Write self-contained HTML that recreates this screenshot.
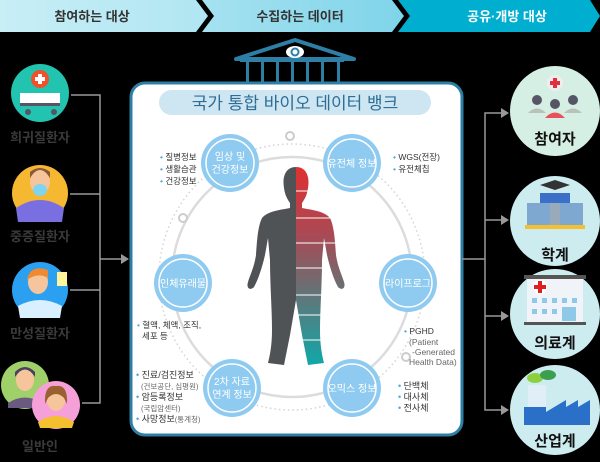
<!DOCTYPE html>
<html><head><meta charset="utf-8"><style>
html,body{margin:0;padding:0;background:#000;}
svg{display:block;font-family:"Liberation Sans","Noto Sans CJK KR",sans-serif;}
</style></head><body>
<svg width="600" height="462" viewBox="0 0 600 462" xmlns="http://www.w3.org/2000/svg">
<defs>
<linearGradient id="b1" x1="0" x2="1"><stop offset="0" stop-color="#c8eef6"/><stop offset="1" stop-color="#b0e6f2"/></linearGradient>
<linearGradient id="b2" x1="0" x2="1"><stop offset="0" stop-color="#a6e2f0"/><stop offset="1" stop-color="#7fd4ea"/></linearGradient>
<linearGradient id="body" x1="0" y1="0" x2="0" y2="1"><stop offset="0" stop-color="#e03030"/><stop offset="0.35" stop-color="#a84a55"/><stop offset="0.6" stop-color="#6c6e72"/><stop offset="1" stop-color="#10a8a8"/></linearGradient>
<clipPath id="rc"><rect x="296" y="160" width="60" height="210"/></clipPath>
<clipPath id="lc"><rect x="240" y="160" width="56" height="210"/></clipPath>
</defs>
<!-- banner -->
<polygon points="0,0 196,0 208,16 196,32 0,32" fill="url(#b1)"/>
<polygon points="202,0 392,0 404,16 392,32 202,32 214,16" fill="url(#b2)"/>
<polygon points="398,0 590,0 600,16 590,32 398,32 410,16" fill="#00aed0"/>
<text x="92" y="21" font-size="13" font-weight="bold" fill="#333" text-anchor="middle">참여하는 대상</text>
<text x="300" y="21" font-size="13" font-weight="bold" fill="#333" text-anchor="middle">수집하는 데이터</text>
<text x="507" y="21" font-size="13" font-weight="bold" fill="#fff" text-anchor="middle">공유·개방 대상</text>
<!-- building roof -->
<polygon points="236,59 295,40 354,59" fill="none" stroke="#2d7fa6" stroke-width="4" stroke-linejoin="round"/>
<ellipse cx="295" cy="52" rx="9" ry="6" fill="#fff"/><circle cx="295" cy="52" r="3.5" fill="none" stroke="#2d7fa6" stroke-width="2"/>
<g fill="#2d7fa6"><rect x="246" y="60" width="3" height="24"/><rect x="261" y="60" width="3" height="24"/><rect x="276" y="60" width="3" height="24"/><rect x="291" y="60" width="3" height="24"/><rect x="306" y="60" width="3" height="24"/><rect x="321" y="60" width="3" height="24"/><rect x="337" y="60" width="3" height="24"/><rect x="240" y="59" width="104" height="3"/></g>
<!-- main box -->
<rect x="131" y="83" width="331" height="352" rx="14" fill="#fff" stroke="#2d7fa6" stroke-width="3"/>
<rect x="159" y="90" width="272" height="25" rx="12.5" fill="#cde6f1"/>
<text x="295" y="109" font-size="17" fill="#2d6d96" text-anchor="middle">국가 통합 바이오 데이터 뱅크</text>
<!-- arcs -->
<circle cx="292" cy="277" r="120" fill="none" stroke="#dcdcdc" stroke-width="2.5"/>
<circle cx="292" cy="277" r="133" fill="none" stroke="#d4d4d4" stroke-width="1.5" stroke-dasharray="1.5 3"/>
<circle cx="290" cy="136" r="4" fill="#fff" stroke="#ccc" stroke-width="2"/>
<circle cx="183" cy="218" r="4" fill="#fff" stroke="#ccc" stroke-width="2"/>
<circle cx="406" cy="357" r="4" fill="#fff" stroke="#ccc" stroke-width="2"/>
<!-- body -->
<g>
<path d="M296,167 C286,167 282,176 284,188 C285,196 288,200 290,203 L290,208 C280,210 268,211 262,218 C258,226 257,240 256,255 C254,268 250,275 248,282 C246,288 250,291 254,287 C258,280 262,268 265,255 L268,238 L270,260 C270,285 272,310 272,330 C272,345 270,355 268,363 L284,365 L290,335 L296,300 L302,335 L308,365 L324,363 C322,355 320,345 320,330 C320,310 322,285 322,260 L324,238 L327,255 C330,268 334,280 338,287 C342,291 346,288 344,282 C342,275 338,268 336,255 C335,240 334,226 330,218 C324,211 312,210 302,208 L302,203 C304,200 307,196 308,188 C310,176 306,167 296,167 Z" fill="#505356" clip-path="url(#lc)"/>
<path d="M296,167 C286,167 282,176 284,188 C285,196 288,200 290,203 L290,208 C280,210 268,211 262,218 C258,226 257,240 256,255 C254,268 250,275 248,282 C246,288 250,291 254,287 C258,280 262,268 265,255 L268,238 L270,260 C270,285 272,310 272,330 C272,345 270,355 268,363 L284,365 L290,335 L296,300 L302,335 L308,365 L324,363 C322,355 320,345 320,330 C320,310 322,285 322,260 L324,238 L327,255 C330,268 334,280 338,287 C342,291 346,288 344,282 C342,275 338,268 336,255 C335,240 334,226 330,218 C324,211 312,210 302,208 L302,203 C304,200 307,196 308,188 C310,176 306,167 296,167 Z" fill="url(#body)" clip-path="url(#rc)"/>
<g stroke="#fff" stroke-width="1"><line x1="296" y1="191" x2="330" y2="191"/><line x1="296" y1="218" x2="340" y2="218"/><line x1="296" y1="243" x2="345" y2="243"/><line x1="296" y1="268" x2="325" y2="268"/><line x1="296" y1="295" x2="325" y2="295"/><line x1="296" y1="315" x2="325" y2="315"/><line x1="296" y1="340" x2="325" y2="340"/></g>
</g>
<!-- data circles -->
<g font-size="10" fill="#fff" text-anchor="middle">
<circle cx="230" cy="163" r="29" fill="#8fcbf0"/><circle cx="230" cy="163" r="24" fill="none" stroke="#fff" stroke-width="1.5"/>
<text x="230" y="160">임상 및</text><text x="230" y="173">건강정보</text>
<circle cx="352" cy="163" r="29" fill="#8fcbf0"/><circle cx="352" cy="163" r="24" fill="none" stroke="#fff" stroke-width="1.5"/>
<text x="352" y="167">유전체 정보</text>
<circle cx="183" cy="283" r="29" fill="#8fcbf0"/><circle cx="183" cy="283" r="24" fill="none" stroke="#fff" stroke-width="1.5"/>
<text x="183" y="287">인체유래물</text>
<circle cx="408" cy="283" r="29" fill="#8fcbf0"/><circle cx="408" cy="283" r="24" fill="none" stroke="#fff" stroke-width="1.5"/>
<text x="408" y="287">라이프로그</text>
<circle cx="232" cy="388" r="29" fill="#8fcbf0"/><circle cx="232" cy="388" r="24" fill="none" stroke="#fff" stroke-width="1.5"/>
<text x="232" y="385">2차 자료</text><text x="232" y="398">연계 정보</text>
<circle cx="352" cy="388" r="29" fill="#8fcbf0"/><circle cx="352" cy="388" r="24" fill="none" stroke="#fff" stroke-width="1.5"/>
<text x="352" y="392">오믹스 정보</text>
</g>
<!-- bullets -->
<g font-size="8.5" fill="#333">
<text x="160" y="160"><tspan fill="#4aa8d8">• </tspan>질병정보</text>
<text x="160" y="172"><tspan fill="#4aa8d8">• </tspan>생활습관</text>
<text x="160" y="184"><tspan fill="#4aa8d8">• </tspan>건강정보</text>
<text x="393" y="160"><tspan fill="#4aa8d8">• </tspan>WGS(전장)</text>
<text x="393" y="172"><tspan fill="#4aa8d8">• </tspan>유전체칩</text>
<text x="137" y="328"><tspan fill="#4aa8d8">• </tspan>혈액, 체액, 조직,</text>
<text x="142" y="339">세포 등</text>
<text x="404" y="334"><tspan fill="#4aa8d8">• </tspan>PGHD</text>
<text x="409" y="345" fill="#666">(Patient</text>
<text x="412" y="355" fill="#666">-Generated</text>
<text x="409" y="365" fill="#666">Health Data)</text>
<text x="136" y="378" font-size="9"><tspan fill="#4aa8d8">• </tspan>진료/검진정보</text>
<text x="141" y="389" font-size="7.5" fill="#666">(건보공단, 심평원)</text>
<text x="136" y="400" font-size="9"><tspan fill="#4aa8d8">• </tspan>암등록정보</text>
<text x="141" y="411" font-size="7.5" fill="#666">(국립암센터)</text>
<text x="136" y="422" font-size="9"><tspan fill="#4aa8d8">• </tspan>사망정보<tspan font-size="7.5" fill="#666">(통계청)</tspan></text>
<text x="398" y="389" font-size="9"><tspan fill="#4aa8d8">• </tspan>단백체</text>
<text x="398" y="400" font-size="9"><tspan fill="#4aa8d8">• </tspan>대사체</text>
<text x="398" y="411" font-size="9"><tspan fill="#4aa8d8">• </tspan>전사체</text>
</g>
<!-- left connectors -->
<g stroke="#999" stroke-width="1.5" fill="none">
<polyline points="71,95 100,95 100,403 82,403"/>
<line x1="70" y1="194" x2="100" y2="194"/>
<line x1="70" y1="290" x2="100" y2="290"/>
<line x1="100" y1="259" x2="122" y2="259"/>
</g>
<polygon points="121,254 129,259 121,264" fill="#999"/>
<!-- left icons -->
<circle cx="40" cy="93" r="29" fill="#22c4b0"/>
<rect x="20" y="93" width="40" height="10" fill="#fff"/><rect x="20" y="103" width="40" height="3" fill="#556"/>
<circle cx="28" cy="112" r="3" fill="#556"/><circle cx="54" cy="112" r="3" fill="#556"/>
<circle cx="40" cy="79" r="9" fill="#f0502a"/><rect x="38" y="74" width="4" height="10" fill="#fff"/><rect x="35" y="77" width="10" height="4" fill="#fff"/>
<text x="40" y="142" font-size="13" fill="#3a3a3a" text-anchor="middle" font-weight="bold">희귀질환자</text>
<circle cx="40" cy="193" r="28" fill="#f5b830"/>
<path d="M16,208 Q40,192 64,208 L62,222 L18,222 Z" fill="#7a6fe0"/>
<ellipse cx="40" cy="182" rx="10" ry="12" fill="#f6c59c"/><path d="M30,178 Q40,162 50,178 L50,172 Q40,164 30,172Z" fill="#8a5a3a"/>
<ellipse cx="40" cy="190" rx="7" ry="6" fill="#7fd4ef"/>
<text x="40" y="241" font-size="13" fill="#3a3a3a" text-anchor="middle" font-weight="bold">중증질환자</text>
<circle cx="40" cy="290" r="28" fill="#2b9ff0"/>
<path d="M18,306 Q40,294 62,306 L60,318 L20,318Z" fill="#d8f0ff"/>
<ellipse cx="38" cy="282" rx="10" ry="12" fill="#f6c59c"/><path d="M27,280 Q30,264 48,270 L48,278 Q38,272 27,280Z" fill="#f08a30"/>
<rect x="57" y="272" width="10" height="14" fill="#fff59a"/>
<text x="40" y="338" font-size="13" fill="#3a3a3a" text-anchor="middle" font-weight="bold">만성질환자</text>
<circle cx="25" cy="385" r="24" fill="#9fd06a"/>
<ellipse cx="25" cy="380" rx="9" ry="11" fill="#f6c59c"/><path d="M15,377 Q25,362 35,377 L35,372 Q25,362 15,372Z" fill="#4a4060"/>
<path d="M8,403 Q25,392 42,403 L42,408 L8,408Z" fill="#6a5a80"/>
<circle cx="56" cy="405" r="24" fill="#f5a0d8"/>
<ellipse cx="56" cy="400" rx="9" ry="11" fill="#f6c59c"/><path d="M45,404 Q44,384 56,386 Q68,384 67,404 L64,398 Q56,390 48,398Z" fill="#9a6030"/>
<path d="M38,422 Q56,410 74,422 L72,428 L40,428Z" fill="#f5c030"/>
<text x="40" y="451" font-size="13" fill="#3a3a3a" text-anchor="middle" font-weight="bold">일반인</text>
<!-- right connectors -->
<g stroke="#999" stroke-width="1.5" fill="none">
<line x1="462" y1="259" x2="485" y2="259"/>
<polyline points="502,113 485,113 485,410 502,410"/>
<line x1="485" y1="220" x2="502" y2="220"/>
<line x1="485" y1="316" x2="502" y2="316"/>
</g>
<g fill="#999"><polygon points="501,108 509,113 501,118"/><polygon points="501,215 509,220 501,225"/><polygon points="501,311 509,316 501,321"/><polygon points="501,405 509,410 501,415"/></g>
<!-- right icons -->
<g text-anchor="middle" font-size="15" font-weight="bold" fill="#111">
<circle cx="555" cy="111" r="45" fill="#d6efe4"/>
<circle cx="555" cy="83" r="8" fill="#eee"/><rect x="553" y="78" width="4" height="10" fill="#e03040"/><rect x="550" y="81" width="10" height="4" fill="#e03040"/>
<circle cx="537" cy="100" r="5" fill="#556"/><circle cx="573" cy="100" r="5" fill="#556"/>
<path d="M528,113 Q537,104 546,113Z" fill="#b8c2b8"/><path d="M564,113 Q573,104 582,113Z" fill="#b8c2b8"/>
<circle cx="555" cy="104" r="5" fill="#556"/><path d="M545,118 Q555,107 565,118Z" fill="#e8505a"/>
<text x="555" y="144">참여자</text>
<circle cx="555" cy="221" r="45" fill="#ccecf0"/>
<polygon points="540,185 555,180 570,185 555,190" fill="#333"/>
<rect x="540" y="193" width="30" height="10" fill="#3a70c8"/>
<rect x="527" y="203" width="56" height="22" fill="#7fa8d0"/><rect x="550" y="203" width="10" height="22" fill="#9ab"/>
<rect x="525" y="225" width="60" height="4" fill="#f5c030"/>
<text x="555" y="260">학계</text>
<circle cx="555" cy="314" r="45" fill="#ccecf0"/>
<rect x="527" y="278" width="56" height="44" fill="#f0f4f8"/><rect x="524" y="275" width="62" height="4" fill="#555"/>
<circle cx="540" cy="287" r="7" fill="#fff"/><rect x="538" y="281" width="4" height="12" fill="#e02020"/><rect x="534" y="285" width="12" height="4" fill="#e02020"/>
<g fill="#8ecae8"><rect x="532" y="298" width="5" height="5"/><rect x="542" y="298" width="5" height="5"/><rect x="552" y="298" width="5" height="5"/><rect x="562" y="298" width="5" height="5"/><rect x="572" y="298" width="5" height="5"/><rect x="532" y="309" width="5" height="5"/><rect x="542" y="309" width="5" height="5"/><rect x="552" y="309" width="5" height="5"/><rect x="562" y="307" width="14" height="14"/></g>
<rect x="524" y="322" width="62" height="3" fill="#555"/>
<text x="555" y="348">의료계</text>
<circle cx="555" cy="410" r="45" fill="#ccecf0"/>
<ellipse cx="535" cy="378" rx="8" ry="5" fill="#8cd040"/><ellipse cx="548" cy="375" rx="8" ry="5" fill="#3aa050"/>
<rect x="528" y="385" width="18" height="22" fill="#e0eef8"/>
<path d="M524,407 L524,425 L590,425 L590,400 L578,407 L578,400 L566,407 L566,400 L546,412 L546,407Z" fill="#2a70c8"/>
<text x="555" y="446">산업계</text>
</g>
</svg>
</body></html>
